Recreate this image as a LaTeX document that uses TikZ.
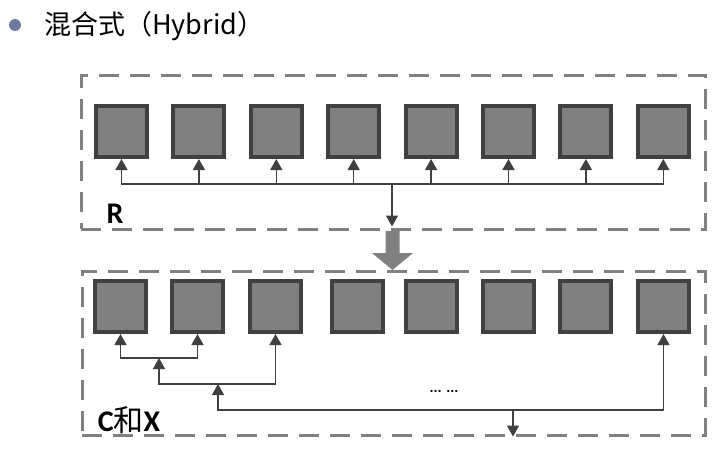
\documentclass[tikz,border=0pt]{standalone}
\usepackage{fontspec}
\setmainfont{Carlito}
\newfontfamily\cjk{Noto Sans CJK SC}
\usetikzlibrary{arrows.meta,positioning}
\definecolor{darkbox}{HTML}{404040}
\definecolor{midgray}{HTML}{808080}
\definecolor{bulletblue}{HTML}{7079A0}

\begin{document}
\begin{tikzpicture}[x=1pt, y=-1pt,
  cell/.style={draw=darkbox, line width=4pt, fill=midgray, minimum size=51pt, inner sep=0pt},
  groupbox/.style={draw=midgray, line width=3pt, dash pattern=on 20pt off 11pt, inner sep=0pt},
  arrow/.style={-{Triangle[length=11pt,width=12pt]}, draw=darkbox, line width=1.4pt},
  grouptag/.style={font=\fontsize{30}{32}\selectfont\bfseries, inner sep=0pt},
]
\useasboundingbox (0,0) rectangle (721,450);

% title
\node[circle, fill=bulletblue, minimum size=12pt, inner sep=0pt] (bullet) at (15,25) {};
\node[anchor=base west, inner sep=0pt, font=\cjk\fontsize{27}{30}\selectfont] (title) at (44,34) {混合式（Hybrid）};

% R
\node[groupbox, minimum width=624pt, minimum height=154pt] (rbox) at (393,152) {};
\foreach \i in {1,...,8}
  \node[cell] (r\i) at ({121.5+77.4*(\i-1)},131.5) {};
\coordinate (rb) at (392,184);
\foreach \i in {1,...,8}
  \draw[arrow] (rb) -| (r\i.south);
\draw[arrow, shorten >=4pt] (rb) -- (rb |- rbox.south);
\node[grouptag] (rtag) at (115,214) {R};

% block arrow between the two groups
\fill[midgray] (385.5,231) -- (399.5,231) -- (399.5,253) -- (413,253) -- (392.5,270)
  -- (372,253) -- (385.5,253) -- cycle;

% C and X
\node[groupbox, minimum width=623pt, minimum height=164pt] (cbox) at (393.5,353) {};
\node[cell] (c1) at (120.5,306.5) {};
\node[cell] (c2) at (197.5,306.5) {};
\node[cell] (c3) at (275.5,306.5) {};
\node[cell] (c4) at (357.5,306.5) {};
\node[cell] (c5) at (431.5,306.5) {};
\node[cell] (c6) at (508.5,306.5) {};
\node[cell] (c7) at (585.5,306.5) {};
\node[cell] (c8) at (663.5,306.5) {};
\coordinate (j1) at (159,358);
\coordinate (j2) at (218,384);
\coordinate (j3) at (513,410);
\draw[arrow] (j1) -| (c1.south);
\draw[arrow] (j1) -| (c2.south);
\draw[arrow] (j2) -| (j1);
\draw[arrow] (j2) -| (c3.south);
\draw[arrow] (j3) -| (j2);
\draw[arrow] (j3) -| (c8.south);
\draw[arrow] (j3) -- (j3 |- cbox.south);
\node[font=\fontsize{15}{16}\selectfont\bfseries] (dots) at (444,391) {... ...};
\node[grouptag] (ctag) at (129,420) {C{\cjk\mdseries 和}X};

\end{tikzpicture}
\end{document}
